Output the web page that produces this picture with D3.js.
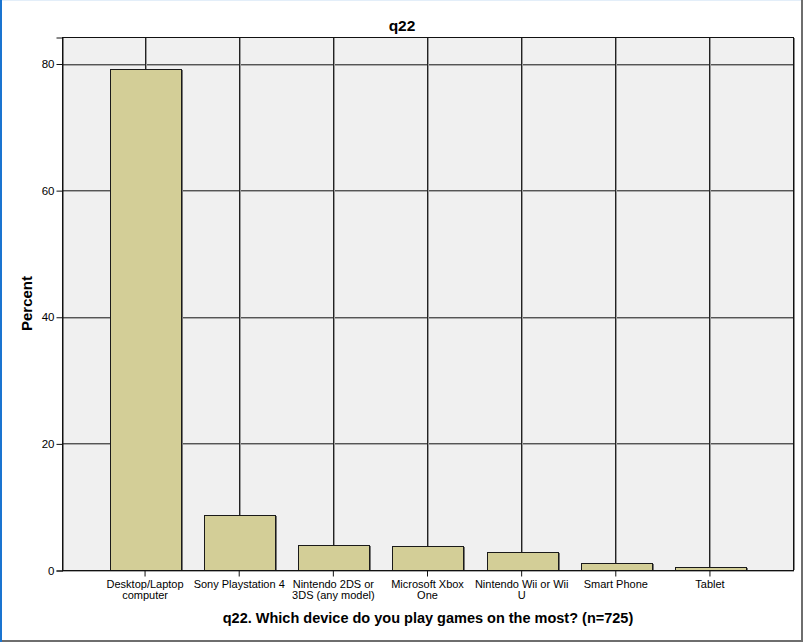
<!DOCTYPE html>
<html><head><meta charset="utf-8">
<script src="https://cdn.jsdelivr.net/npm/d3@7"></script>
<style>html,body{margin:0;padding:0;background:#fff;}svg{display:block;}</style>
</head><body>
<svg id="chart" width="803" height="642"></svg>
<script>
const categories = [
  ["Desktop/Laptop", "computer"],
  ["Sony Playstation 4"],
  ["Nintendo 2DS or", "3DS (any model)"],
  ["Microsoft Xbox", "One"],
  ["Nintendo Wii or Wii", "U"],
  ["Smart Phone"],
  ["Tablet"]
];
const percentValues = [79.17, 8.69, 4.00, 3.72, 2.90, 1.10, 0.41];
const yTicks = [0, 20, 40, 60, 80];
const chartTitle = "q22";
const xTitle = "q22. Which device do you play games on the most? (n=725)";
const yTitle = "Percent";

const svg = d3.select("#chart");
const font = "Arial, 'Liberation Sans', sans-serif";
const L = 62, R = 794, T = 37, B = 570;

// outer frame
svg.append("line").attr("x1",0).attr("x2",803).attr("y1",0.5).attr("y2",0.5).attr("stroke","#e3eef9").attr("stroke-width",1);
svg.append("rect").attr("x",0).attr("y",0).attr("width",2).attr("height",642).attr("fill","#1a74d0");
svg.append("rect").attr("x",801).attr("y",0).attr("width",2).attr("height",642).attr("fill","#6e6e6e");
svg.append("rect").attr("x",2).attr("y",640).attr("width",801).attr("height",2).attr("fill","#6e6e6e");

const idx = categories.map((d,i)=>i);
const x = d3.scaleBand().domain(idx).range([L, R]).paddingInner(0.245).paddingOuter(0.51);
const y = d3.scaleLinear().domain([0, (B-T)/((B-63.5)/80)]).range([B, T]);

// plot background
svg.append("rect").attr("x",L).attr("y",T).attr("width",R-L).attr("height",B-T).attr("fill","#f0f0f0");

// horizontal gridlines
const hg = svg.append("g");
yTicks.forEach(t=>{
  const yy = Math.round(y(t));
  hg.append("line").attr("x1",L).attr("x2",R).attr("y1",yy+0.5).attr("y2",yy+0.5).attr("stroke","#555").attr("stroke-width",1);
  hg.append("line").attr("x1",L).attr("x2",R).attr("y1",yy+1.5).attr("y2",yy+1.5).attr("stroke","#aaa").attr("stroke-width",1);
});
// vertical gridlines at category centers
idx.forEach(i=>{
  const xx = Math.round(x(i)+x.bandwidth()/2);
  hg.append("line").attr("x1",xx-0.5).attr("x2",xx-0.5).attr("y1",T).attr("y2",B).attr("stroke","#222").attr("stroke-width",1);
  hg.append("line").attr("x1",xx+0.5).attr("x2",xx+0.5).attr("y1",T).attr("y2",B).attr("stroke","#999").attr("stroke-width",1);
});

// bars
const bars = svg.append("g");
percentValues.forEach((v,i)=>{
  const x0 = Math.round(x(i)), w = Math.round(x.bandwidth());
  const y0 = Math.round(y(v));
  bars.append("rect").attr("x",x0+0.5).attr("y",y0+0.5).attr("width",w).attr("height",Math.max(0,B-y0))
    .attr("fill","#d3ce97").attr("stroke","#1a1a1a").attr("stroke-width",1);
  bars.append("line").attr("x1",x0+w+1.5).attr("x2",x0+w+1.5).attr("y1",y0+1).attr("y2",B).attr("stroke","#777");
});

// plot frame
svg.append("rect").attr("x",L+0.5).attr("y",T+0.5).attr("width",R-L-1).attr("height",B-T).attr("fill","none").attr("stroke","#111").attr("stroke-width",1);
svg.append("line").attr("x1",R+0.5).attr("x2",R+0.5).attr("y1",T+1).attr("y2",B).attr("stroke","#888");

// y axis
const yAxis = d3.axisLeft(y).tickValues(yTicks).tickSize(6).tickPadding(2).tickFormat(d3.format("d"));
const ya = svg.append("g").attr("transform",`translate(${L+0.5},0.5)`).call(yAxis);
ya.select(".domain").attr("stroke","#111");
ya.selectAll(".tick line").attr("stroke","#111");
ya.selectAll("text").attr("font-family",font).attr("font-size","11.5px").attr("fill","#000");

// x axis
const xAxis = d3.axisBottom(x).tickSize(6).tickFormat("");
const xa = svg.append("g").attr("transform",`translate(-0.5,${B+0.5})`).call(xAxis);
xa.select(".domain").remove();
xa.selectAll(".tick line").attr("stroke","#111");
xa.selectAll(".tick").each(function(i){
  const t = d3.select(this).append("text").attr("text-anchor","middle").attr("font-family",font).attr("font-size","11px").attr("fill","#000");
  categories[i].forEach((line,k)=>{
    t.append("tspan").attr("x",0).attr("y",17.5 + k*11).text(line);
  });
});

// titles
svg.append("text").attr("x",402).attr("y",31).attr("text-anchor","middle").attr("font-family",font).attr("font-weight","bold").attr("font-size","15.5px").text(chartTitle);
svg.append("text").attr("x",(L+R)/2).attr("y",623).attr("text-anchor","middle").attr("font-family",font).attr("font-weight","bold").attr("font-size","14.5px").text(xTitle);
svg.append("text").attr("transform",`translate(32,${(T+B)/2}) rotate(-90)`).attr("text-anchor","middle").attr("font-family",font).attr("font-weight","bold").attr("font-size","15px").text(yTitle);
</script>
</body></html>
